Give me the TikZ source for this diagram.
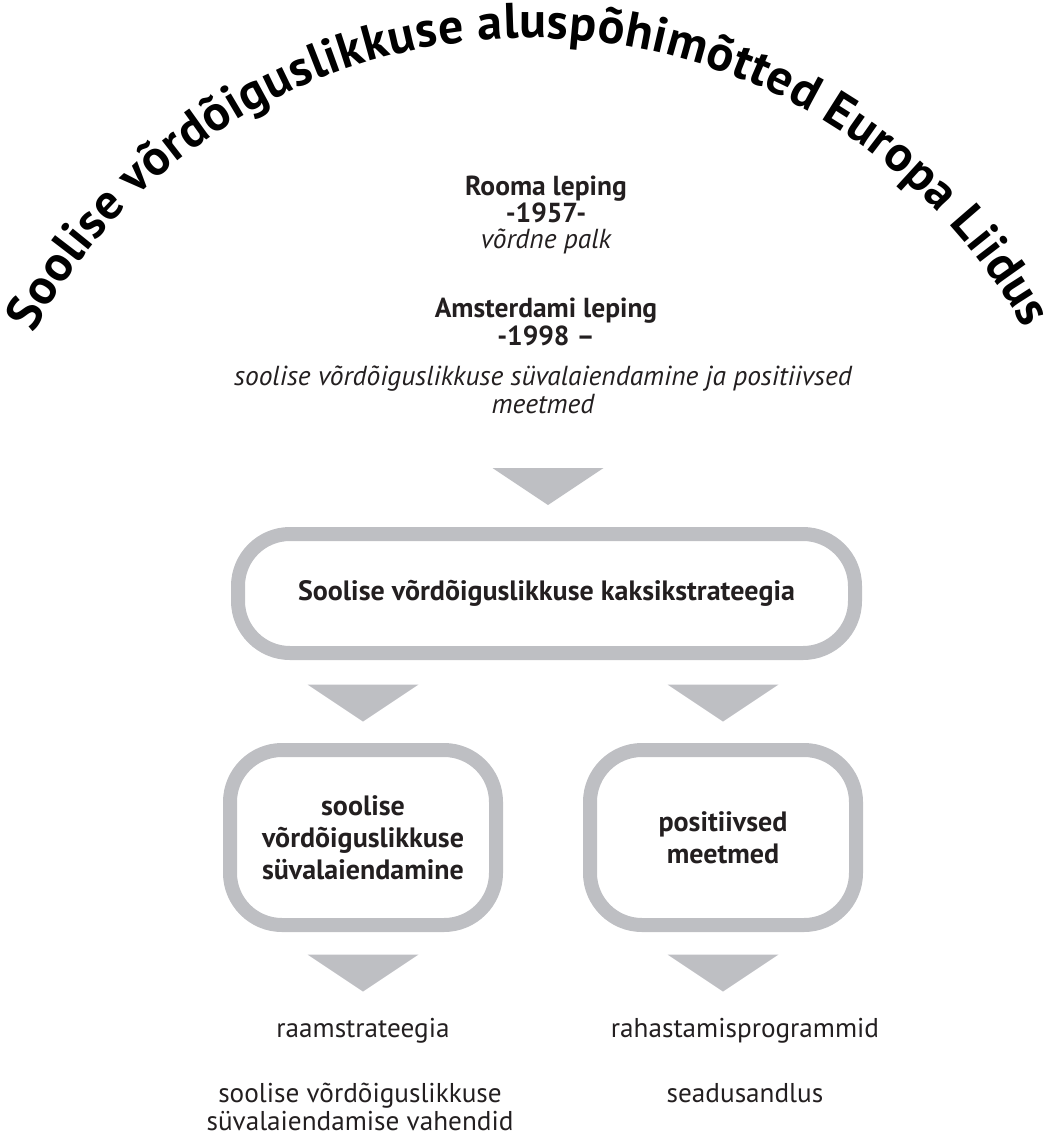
\documentclass[tikz,border=0pt]{standalone}
\usepackage{fontspec}
\setmainfont{PT Sans}
\usetikzlibrary{decorations.text}
\definecolor{trigray}{RGB}{190,191,195}
\definecolor{inkdark}{RGB}{35,31,32}

\begin{document}
\begin{tikzpicture}[x=1pt, y=-1pt]
  \tikzset{
    every node/.style={text=inkdark, inner sep=0pt},
    treaty/.style={anchor=base, font=\fontsize{27.5}{27}\selectfont\bfseries},
    treatynote/.style={anchor=base, align=center, font=\fontsize{27.5}{28}\selectfont\itshape},
    roundbox/.style={draw=trigray, line width=14pt, rounded corners=52pt, align=center,
      font=\fontsize{28}{32}\selectfont\bfseries},
    outcome/.style={anchor=base, align=center, font=\fontsize{27.2}{28}\selectfont},
    downtri/.pic={\fill[trigray] (-55.5,-18.5) -- (55.5,-18.5) -- (0,18.5) -- cycle;},
  }
  \useasboundingbox (0,0) rectangle (1054,1136);

  % title bent over the top
  \coordinate (arcctr) at (530,603);
  \path[decorate, decoration={text along path, text align={fit to path},
      text={|\fontsize{50}{50}\selectfont\bfseries|Soolise võrdõiguslikkuse aluspõhimõtted Europa Liidus}}]
    ([shift={(151.5:565pt)}]arcctr) arc[start angle=151.5, end angle=29, radius=565pt];

  % treaties
  \node[treaty] (rome) at (546,195) {Rooma leping};
  \node[treaty] (romeyear) at (546,222) {-1957-};
  \node[treatynote] (romenote) at (546,248) {võrdne palk};
  \node[treaty] (amst) at (546,317) {Amsterdami leping};
  \node[treaty] (amstyear) at (546,345) {-1998 –};
  \node[treatynote] (amstnote) at (543,413) {soolise võrdõiguslikkuse süvalaiendamine ja positiivsed\\meetmed};

  % strategy boxes
  \node[roundbox, minimum width=617pt, minimum height=119pt] (dual) at (546.5,593.5)
    {Soolise võrdõiguslikkuse kaksikstrateegia};
  \node[roundbox, minimum width=266pt, minimum height=175pt] (mainstr) at (363,837.5)
    {soolise\\võrdõiguslikkuse\\süvalaiendamine};
  \node[roundbox, minimum width=266pt, minimum height=175pt] (posmeas) at (723,837.5)
    {positiivsed\\meetmed};

  % arrows
  \pic (t1) at (548,486.5) {downtri};
  \pic (t2) at (363,703) {downtri};
  \pic (t3) at (723,703) {downtri};
  \pic (t4) at (363,973) {downtri};
  \pic (t5) at (723,973) {downtri};

  % tools
  \node[outcome] (frame) at (363,1037) {raamstrateegia};
  \node[outcome] (tools) at (360,1130) {soolise võrdõiguslikkuse\\süvalaiendamise vahendid};
  \node[outcome] (funds) at (745,1037) {rahastamisprogrammid};
  \node[outcome] (laws) at (745,1102) {seadusandlus};
\end{tikzpicture}
\end{document}
